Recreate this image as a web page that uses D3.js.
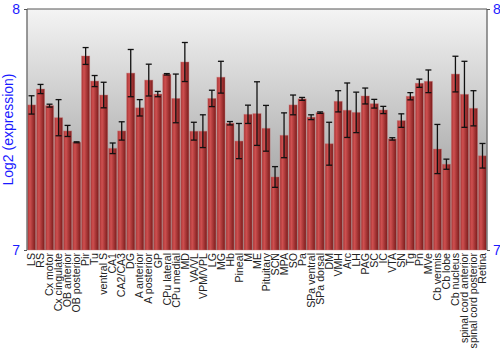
<!DOCTYPE html>
<html><head><meta charset="utf-8">
<script src="https://cdn.jsdelivr.net/npm/d3@7"></script>
<style>body{margin:0;background:#fff}svg{display:block}</style>
</head><body><svg id="c" width="500" height="350"></svg>
<script>
const categories = ["LS","RS","Cx motor","Cx cingulate","OB anterior","OB posterior","Pir","Tu","ventral S","CA1","CA2/CA3","DG","A anterior","A posterior","GP","CPu lateral","CPu medial","MD","VA/VL","VPM/VPL","LG","MG","Hb","Pineal","M","ME","Pituitary","SCN","MPA","SO","Pa","SPa ventral","SPa dorsal","DM","VMH","Arc","LH","PAG","SC","IC","VTA","SN","Tg","Pn","MVe","Cb vermis","Cb lobe","Cb nucleus","spinal cord anterior","spinal cord posterior","Retina"];
const means = [7.602,7.668,7.599,7.549,7.494,7.447,7.805,7.701,7.643,7.422,7.494,7.734,7.590,7.705,7.647,7.729,7.629,7.780,7.493,7.493,7.629,7.717,7.526,7.452,7.563,7.566,7.505,7.303,7.476,7.602,7.627,7.551,7.570,7.441,7.617,7.580,7.571,7.639,7.607,7.581,7.461,7.537,7.638,7.692,7.700,7.419,7.356,7.730,7.646,7.588,7.391];
const errors = [0.038,0.019,0.006,0.075,0.023,0.002,0.035,0.023,0.053,0.022,0.038,0.098,0.034,0.066,0.011,0.003,0.101,0.081,0.037,0.068,0.034,0.066,0.007,0.073,0.038,0.132,0.095,0.043,0.093,0.041,0.006,0.010,0.003,0.089,0.044,0.113,0.084,0.033,0.018,0.015,0.005,0.028,0.015,0.017,0.047,0.102,0.021,0.074,0.137,0.073,0.051];
const yTicks = [7, 8];
const yLabel = "Log2 (expression)";

const svg = d3.select("#c");
const L = 27, R = 487, T = 9, B = 250;
const x = d3.scaleBand().domain(categories).range([L, R]).paddingInner(0.1).paddingOuter(0.05);
const y = d3.scaleLinear().domain([7, 8]).range([B, T]);

const defs = svg.append("defs");
const bg = defs.append("linearGradient").attr("id","bg").attr("x1",0).attr("y1",0).attr("x2",0).attr("y2",1);
bg.append("stop").attr("offset","0%").attr("stop-color","#f4f4f4");
bg.append("stop").attr("offset","100%").attr("stop-color","#8a8a8a");
const bar = defs.append("linearGradient").attr("id","bar").attr("x1",0).attr("y1",0).attr("x2",1).attr("y2",0);
bar.append("stop").attr("offset","0%").attr("stop-color","#a83434");
bar.append("stop").attr("offset","30%").attr("stop-color","#cf5050");
bar.append("stop").attr("offset","100%").attr("stop-color","#7a1a1a");

svg.append("rect").attr("x",L).attr("y",T).attr("width",R-L).attr("height",B-T).attr("fill","url(#bg)");

const data = categories.map((c,i)=>({c, m:means[i], e:errors[i]}));
svg.append("g").selectAll("rect").data(data).join("rect")
  .attr("x",d=>x(d.c)).attr("width",x.bandwidth())
  .attr("y",d=>y(d.m)).attr("height",d=>B-y(d.m))
  .attr("fill","url(#bar)")
  .attr("stroke","rgba(200,120,120,0.5)").attr("stroke-width",0.8);

const eb = svg.append("g").attr("stroke","#111").attr("stroke-width",1.3);
data.forEach(d=>{
  const cx = x(d.c)+x.bandwidth()/2;
  eb.append("line").attr("x1",cx).attr("x2",cx).attr("y1",y(d.m+d.e)).attr("y2",y(d.m-d.e));
  eb.append("line").attr("x1",cx-3).attr("x2",cx+3).attr("y1",y(d.m+d.e)).attr("y2",y(d.m+d.e));
  eb.append("line").attr("x1",cx-3).attr("x2",cx+3).attr("y1",y(d.m-d.e)).attr("y2",y(d.m-d.e));
});

// frame lines
svg.append("line").attr("x1",L).attr("x2",L).attr("y1",T).attr("y2",B).attr("stroke","#777").attr("stroke-width",1.5);
svg.append("line").attr("x1",R).attr("x2",R).attr("y1",T).attr("y2",B).attr("stroke","#777").attr("stroke-width",1.5);
svg.append("line").attr("x1",L).attr("x2",R).attr("y1",T).attr("y2",T).attr("stroke","#555").attr("stroke-width",1);

// y axes
const la = svg.append("g").attr("transform",`translate(${L},0)`).call(d3.axisLeft(y).tickValues(yTicks).tickSize(3).tickFormat(d3.format("d")));
const ra = svg.append("g").attr("transform",`translate(${R},0)`).call(d3.axisRight(y).tickValues(yTicks).tickSize(3).tickFormat(d3.format("d")));
[la,ra].forEach(a=>{
  a.select(".domain").remove();
  a.selectAll("line").attr("stroke","#555");
  a.selectAll("text").attr("fill","#1a1aff").style("font-family","Liberation Sans, Arial, sans-serif").style("font-size","14px");
});
la.selectAll("text").attr("x",-7);
ra.selectAll("text").attr("x",6);

svg.append("text").attr("transform",`translate(13,${(T+B)/2}) rotate(-90)`)
  .attr("text-anchor","middle").attr("fill","#1a1aff")
  .style("font-family","Liberation Sans, Arial, sans-serif").style("font-size","14px").text(yLabel);

// x labels
const xa = svg.append("g").attr("transform",`translate(0,${B})`).call(d3.axisBottom(x).tickSize(0));
xa.select(".domain").remove();
xa.selectAll("text")
  .attr("transform","rotate(-90)").attr("text-anchor","end")
  .attr("x",-3).attr("y",0).attr("dy","0.35em")
  .attr("fill","#222")
  .style("font-family","Liberation Sans, Arial, sans-serif").style("font-size","10.6px");
</script></body></html>
